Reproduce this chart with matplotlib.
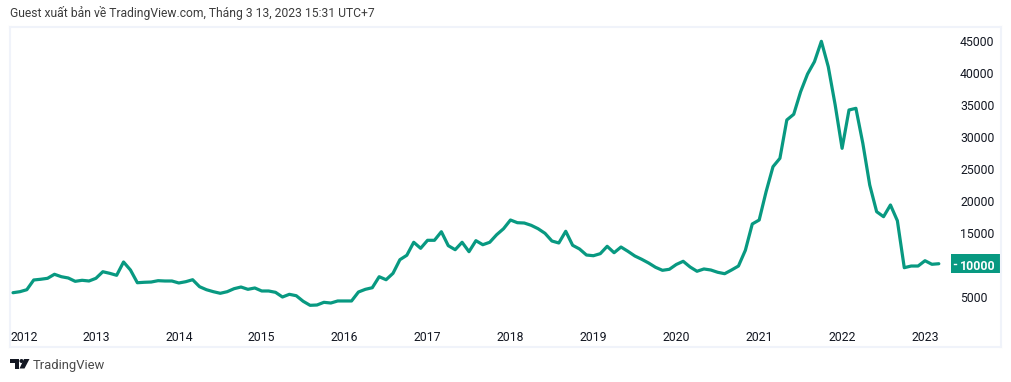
import matplotlib
matplotlib.use('Agg')
from matplotlib import pyplot as plt
from matplotlib.patches import Polygon, Circle, Rectangle
from matplotlib.transforms import blended_transform_factory
import numpy as np

# gia dong thang, tu 1/2012 den 3/2023
close = [5670, 5830, 6140, 7660, 7770, 7920, 8550, 8170, 7970, 7450, 7610, 7500,
         7920, 8950, 8700, 8390, 10470, 9220, 7230, 7300, 7340, 7550, 7500, 7500,
         7190, 7390, 7700, 6610, 6140, 5830, 5580, 5830, 6300, 6560, 6200, 6410,
         5940, 5940, 5730, 5000, 5420, 5200, 4330, 3700, 3750, 4170, 4060, 4380,
         4380, 4380, 5780, 6200, 6450, 8170, 7700, 8700, 10830, 11520, 13550, 12610,
         13860, 13860, 15200, 13020, 12390, 13550, 12080, 13800, 13170, 13550, 14730, 15670,
         17030, 16610, 16560, 16200, 15670, 14950, 13750, 13440, 15270, 13080, 12500, 11560,
         11450, 11770, 12920, 11920, 12810, 12140, 11410, 10890, 10310, 9640, 9170, 9330,
         10080, 10580, 9690, 9020, 9380, 9220, 8860, 8640, 9220, 9840, 12300, 16410,
         17030, 21450, 25360, 26670, 32660, 33550, 37080, 39840, 41770, 44950, 40980, 35000,
         28230, 34220, 34480, 29020, 22500, 18330, 17550, 19380, 16920, 9580, 9840, 9840,
         10670, 10110, 10200]
years = ['2012', '2013', '2014', '2015', '2016', '2017', '2018', '2019', '2020', '2021', '2022', '2023']
price_ticks = [5000, 10000, 15000, 20000, 25000, 30000, 35000, 40000, 45000]
last_label = 10000

GREEN = '#089981'
BORDER = '#f0f3fa'
TEXT = '#131722'
W, H = 1011, 382

plt.rcParams['font.family'] = ['Roboto', 'DejaVu Sans']

fig = plt.figure(figsize=(W / 100, H / 100), dpi=100, facecolor='white')
ax = fig.add_axes([10 / W, (H - 347) / H, 991 / W, 320 / H])

x = np.arange(len(close))
ax.plot(x, close, color=GREEN, lw=2.3, solid_joinstyle='round', solid_capstyle='round')

ax.set_xlim(-0.434, 143.0)
ax.set_ylim(-2812, 47187)

# nhan nam nam trong khung
xt = [i * 12 for i in range(len(years))]
xt[0] = -0.3
ax.set_xticks(xt)
ax.set_xticklabels(years)
ax.tick_params(axis='x', length=0, pad=-11.2, labelsize=8.8, labelcolor=TEXT)
ax.get_xticklabels()[0].set_ha('left')

ax.yaxis.tick_right()
ax.set_yticks(price_ticks)
ax.set_yticklabels([str(p) for p in price_ticks])
ax.tick_params(axis='y', length=0, pad=-29.5, labelsize=8.8, labelcolor=TEXT)
for lab, p in zip(ax.get_yticklabels(), price_ticks):
    if p == last_label:
        lab.set_color('white')
        lab.set_fontweight('bold')

for s in ax.spines.values():
    s.set_color(BORDER)
    s.set_linewidth(1.5)

# o gia hien tai ben phai
tr = blended_transform_factory(ax.transAxes, ax.transData)
tag_h = 19 / 0.0064 / 1000
ax.add_patch(Rectangle((941 / 991, close[-1] - tag_h * 500), 49 / 991, tag_h * 1000,
                       transform=tr, color=GREEN, lw=0, zorder=1))
ax.plot([944 / 991, 946.5 / 991], [close[-1], close[-1]], transform=tr, color='white', lw=1, zorder=3)

fig.text(10 / W, 1 - 13 / H, 'Guest xuất bản về TradingView.com, Tháng 3 13, 2023 15:31 UTC+7',
         fontsize=8.7, color='#3c3c3c', va='center', ha='left')
fig.text(33 / W, 1 - 365 / H, 'TradingView', fontsize=9.4, color='#4a4a4a', va='center', ha='left')

# logo TradingView, toa do pixel
def px(pts):
    return [(a / W, 1 - b / H) for a, b in pts]

logo = '#131722'
fig.add_artist(Polygon(px([(10, 359), (18.5, 359), (18.5, 368.5), (14.5, 368.5), (14.5, 363), (10, 363)]),
                       closed=True, transform=fig.transFigure, color=logo, lw=0))
fig.add_artist(Polygon(px([(24, 359), (29.5, 359), (24.5, 368.5), (19.5, 368.5)]),
                       closed=True, transform=fig.transFigure, color=logo, lw=0))
fig.add_artist(Circle((21.5, H - 361), 2, transform=None, color=logo, lw=0))

fig.savefig('out.png', dpi=100)
